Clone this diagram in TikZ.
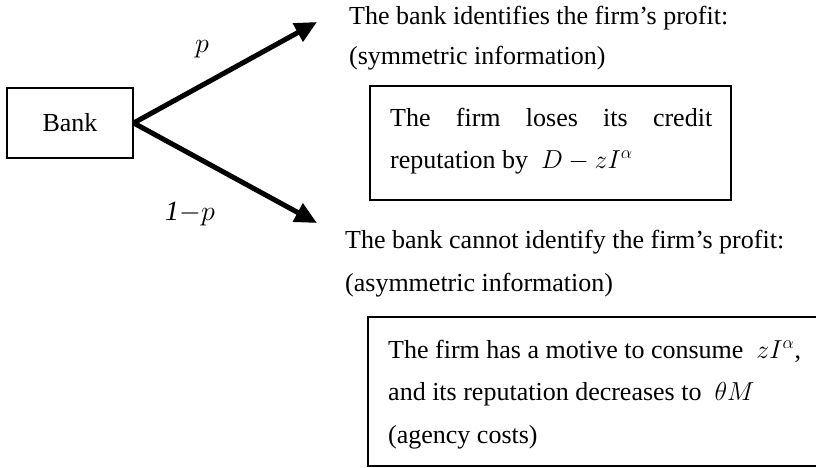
\documentclass[tikz,border=0pt]{standalone}
\usepackage{fix-cm}
\usepackage{fontspec}
\setmainfont{Liberation Serif}
\usetikzlibrary{arrows.meta}
\DeclareMathSizes{26}{26}{18}{13}
\DeclareMathSizes{28}{28}{19}{14}
\tikzset{
  txt/.style={anchor=base west, inner sep=0pt, font=\fontsize{26}{30}\selectfont},
  box/.style={draw, line width=1.6pt, inner sep=0pt},
  branch/.style={line width=5pt, -{Triangle[length=22pt,width=20pt]}},
  problabel/.style={anchor=base, inner sep=0pt, font=\fontsize{28}{32}\selectfont},
}
\begin{document}
\begin{tikzpicture}[x=1pt,y=-1pt]
\useasboundingbox[fill=white] (0,0) rectangle (816,468);
% Bank
\node[box, line width=1.3pt, minimum width=126pt, minimum height=70pt, font=\fontsize{26}{30}\selectfont] (bank) at (70,123) {Bank};
\coordinate (tipU) at (317,22);
\coordinate (tipL) at (317,223);
\draw[branch] (bank.east) -- (tipU);
\draw[branch] (bank.east) -- (tipL);
\node[problabel] (lp) at (202,53) {$p$};
\node[problabel] (lq) at (190,220) {$\mathit{1}{-}p$};
% upper branch
\node[txt] (u1) at (349,25) {The bank identifies the firm’s profit:};
\node[txt] (u2) at (349,65) {(symmetric information)};
\node[box, minimum width=361pt, minimum height=114pt] (b1) at (550.5,143) {};
\node[txt, text width=322pt] (b1a) at (390,127) {The\hfill firm\hfill loses\hfill its\hfill credit};
\node[txt] (b1b) at (390,168) {reputation by \ $D - zI^{\alpha}$};
% lower branch
\node[txt] (l1) at (345,248) {The bank cannot identify the firm’s profit:};
\node[txt] (l2) at (345,291) {(asymmetric information)};
\node[box, line width=2pt, minimum width=462pt, minimum height=149pt] (b2) at (599,391.5) {};
\node[txt] (b2a) at (388,358) {The firm has a motive to consume \ $zI^{\alpha}$,};
\node[txt] (b2b) at (388,400) {and its reputation decreases to \ $\theta M$};
\node[txt] (b2c) at (388,443) {(agency costs)};
\end{tikzpicture}
\end{document}
